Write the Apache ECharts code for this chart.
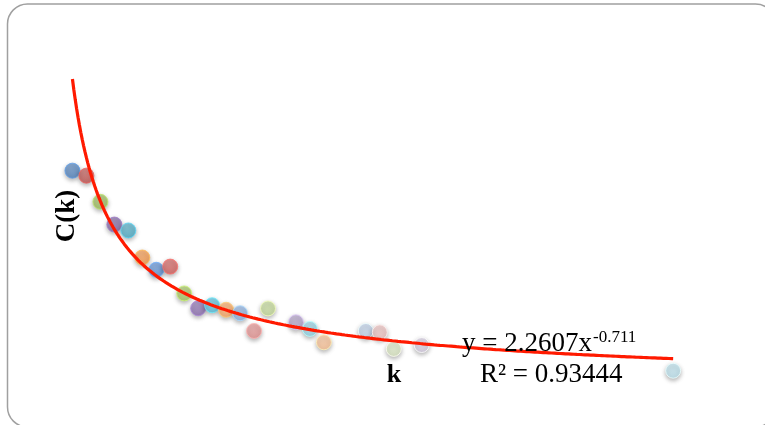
<!DOCTYPE html>
<html>
<head>
<meta charset="utf-8">
<script src="https://cdn.jsdelivr.net/npm/echarts@6/dist/echarts.min.js"></script>
<style>
  html, body { margin: 0; padding: 0; background: #fff; }
  #chart { width: 765px; height: 425px; }
</style>
</head>
<body>
<div id="chart"></div>
<script>
// degree k and clustering coefficient C(k)
const kValues = [2, 3, 4, 5, 6, 7, 8, 9, 10, 11, 12, 13, 14, 15, 16, 18, 19, 20, 23, 24, 25, 27, 45];
const ckValues = [0.978, 0.956, 0.841, 0.741, 0.715, 0.596, 0.542, 0.556, 0.438, 0.373, 0.386, 0.366,
  0.351, 0.273, 0.372, 0.311, 0.282, 0.223, 0.273, 0.267, 0.194, 0.211, 0.098];
// one colour per point, like Excel's "vary colours by point"
const pointColors = ['#4f81bd', '#c0504d', '#9bbb59', '#8064a2', '#4bacc6', '#f79646',
  '#5b8fd6', '#d45d5a', '#a5c661', '#8b6db0', '#56bfdc', '#fba560',
  '#8cb0e0', '#e59190', '#c4da98', '#b2a1c8', '#94d3e4', '#fbc194',
  '#c0d2ec', '#efc2c1', '#dbe8c3', '#d6cde2', '#bde3ef'];
// power trendline shown on the chart: y = 2.2607x^-0.711
const fitA = 2.2607;
const fitB = -0.711;

const chart = echarts.init(document.getElementById('chart'));

const points = kValues.map((k, i) => {
  const c = pointColors[i];
  return {
    value: [k, ckValues[i]],
    itemStyle: {
      color: new echarts.graphic.RadialGradient(0.4, 0.3, 0.75, [
        { offset: 0, color: echarts.color.lift(c, 0.2) },
        { offset: 1, color: c }
      ]),
      borderColor: echarts.color.lift(c, -0.25)
    }
  };
});

// trendline drawn from the equation, over the data range
const trend = [];
const kMin = kValues[0];
const kMax = kValues[kValues.length - 1];
for (let k = kMin; k <= kMax + 1e-9; k += 0.1) {
  trend.push([k, fitA * Math.pow(k, fitB)]);
}

const serif = '"Liberation Serif", "DejaVu Serif", serif';

chart.setOption({
  animation: false,
  backgroundColor: '#fff',
  grid: { left: 44.5, top: 52, width: 698.5, height: 341 },
  xAxis: {
    type: 'value', min: 0, max: 50,
    axisLine: { show: false }, axisTick: { show: false },
    axisLabel: { show: false }, splitLine: { show: false }
  },
  yAxis: {
    type: 'value', min: 0, max: 1.5,
    axisLine: { show: false }, axisTick: { show: false },
    axisLabel: { show: false }, splitLine: { show: false }
  },
  series: [
    {
      type: 'scatter',
      data: points,
      symbolSize: 15,
      z: 2,
      itemStyle: {
        borderWidth: 1,
        shadowColor: 'rgba(0,0,0,0.35)',
        shadowBlur: 4,
        shadowOffsetY: 2
      }
    },
    {
      type: 'line',
      data: trend,
      showSymbol: false,
      z: 3,
      lineStyle: { color: '#ff1a00', width: 3.2 }
    }
  ],
  graphic: [
    {
      type: 'rect',
      shape: { x: 7.5, y: 4, width: 768, height: 423, r: 20 },
      style: { fill: 'none', stroke: '#a0a0a0', lineWidth: 1.5 },
      z: 0
    },
    {
      type: 'text', x: 67, y: 216, rotation: Math.PI / 2, z: 10,
      style: { text: 'C(k)', font: 'bold 27px ' + serif, fill: '#000', align: 'center', verticalAlign: 'middle' }
    },
    {
      type: 'text', x: 394, y: 375, z: 10,
      style: { text: 'k', font: 'bold 26px ' + serif, fill: '#000', align: 'center', verticalAlign: 'middle' }
    },
    {
      type: 'text', x: 462, y: 344, z: 10,
      style: { text: 'y = 2.2607x', font: '27px ' + serif, fill: '#000', align: 'left', verticalAlign: 'middle' }
    },
    {
      type: 'text', x: 593, y: 338, z: 10,
      style: { text: '-0.711', font: '17px ' + serif, fill: '#000', align: 'left', verticalAlign: 'middle' }
    },
    {
      type: 'text', x: 480, y: 375, z: 10,
      style: { text: 'R² = 0.93444', font: '27px ' + serif, fill: '#000', align: 'left', verticalAlign: 'middle' }
    }
  ]
});
</script>
</body>
</html>
